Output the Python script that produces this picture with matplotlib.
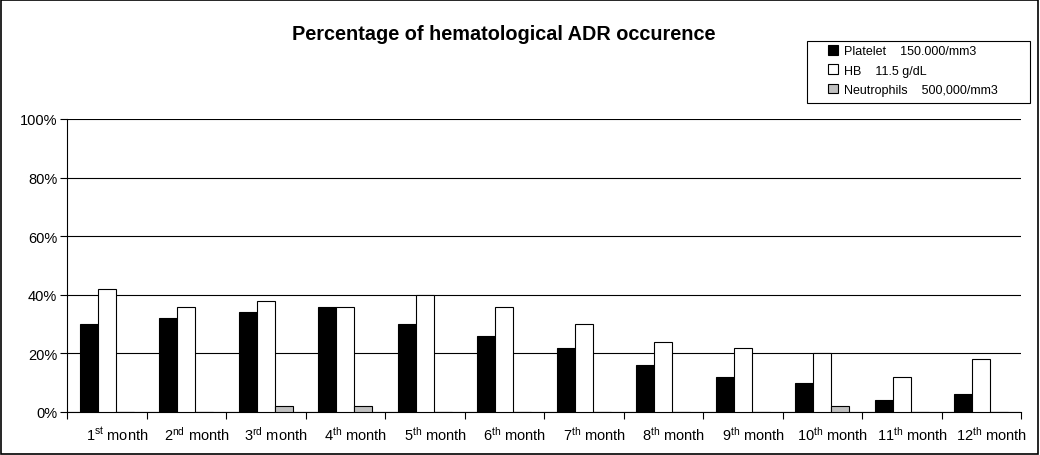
import matplotlib
matplotlib.use("Agg")
import matplotlib.pyplot as plt
import numpy as np
from matplotlib.patches import Rectangle

plt.rcParams['font.family'] = ['Liberation Sans', 'DejaVu Sans']
plt.rcParams['mathtext.fontset'] = 'custom'
plt.rcParams['mathtext.rm'] = 'Liberation Sans'
plt.rcParams['mathtext.it'] = 'Liberation Sans'

months = ["1", "2", "3", "4", "5", "6", "7", "8", "9", "10", "11", "12"]
suffixes = ["st", "nd", "rd", "th", "th", "th", "th", "th", "th", "th", "th", "th"]
platelet = [30, 32, 34, 36, 30, 26, 22, 16, 12, 10, 4, 6]
hb = [42, 36, 38, 36, 40, 36, 30, 24, 22, 20, 12, 18]
neutrophils = [0, 0, 2, 2, 0, 0, 0, 0, 0, 2, 0, 0]
series_labels = ["Platelet    150.000/mm3", "HB    11.5 g/dL", "Neutrophils    500,000/mm3"]
colors = ["black", "white", "#c0c0c0"]

W, H = 1040, 456
fig = plt.figure(figsize=(W / 100, H / 100), dpi=100)
ax = fig.add_axes([67 / W, 43 / H, 954 / W, 293 / H])

n = len(months)
x = np.arange(n)
w = 0.227
for i, (vals, c, lab) in enumerate(zip([platelet, hb, neutrophils], colors, series_labels)):
    ax.bar(x + (i - 1) * w, vals, width=w, color=c, edgecolor="black", linewidth=0.8,
           label=lab, zorder=3)

ax.set_xlim(-0.5, n - 0.5)
ax.set_ylim(0, 100)
ax.set_yticks(np.arange(0, 101, 20))
ax.set_yticklabels([f"{v}%" for v in range(0, 101, 20)], fontsize=10.5)
ax.yaxis.grid(True, color="black", linewidth=0.8, zorder=0)
ax.tick_params(axis='y', length=5, width=0.8, direction='out', pad=2)

ax.set_xticks(np.arange(-0.5, n, 1.0))
ax.set_xticklabels([])
ax.tick_params(axis='x', which='major', length=5, width=0.8, direction='out')
ax.set_xticks(x + 0.13, minor=True)
ax.set_xticklabels([f"{m}$^{{\\mathrm{{{s}}}}}$ month" for m, s in zip(months, suffixes)],
                   minor=True, fontsize=10.5)
ax.tick_params(axis='x', which='minor', length=0, pad=9)

for s in ["top", "right"]:
    ax.spines[s].set_visible(False)
for s in ["left", "bottom"]:
    ax.spines[s].set_color("black")
    ax.spines[s].set_linewidth(0.8)

fig.text(504 / W, 1 - 35 / H, "Percentage of hematological ADR occurence", ha="center",
         va="center", fontsize=14.3, fontweight="bold")

leg = fig.legend(loc="upper left", bbox_to_anchor=(828 / W, 1 - 46 / H), fontsize=9,
                 frameon=False, handlelength=0.8, handleheight=0.8, handletextpad=0.5,
                 borderpad=0, labelspacing=0.58, borderaxespad=0)
fig.add_artist(Rectangle((807 / W, 1 - 104 / H), 223 / W, 62 / H, transform=fig.transFigure,
                         fill=False, edgecolor="black", linewidth=0.8))

fig.add_artist(Rectangle((0.001, 0.002), 0.997, 0.996, transform=fig.transFigure,
                         fill=False, edgecolor="black", linewidth=1.2))

fig.savefig("out.png", dpi=100)
